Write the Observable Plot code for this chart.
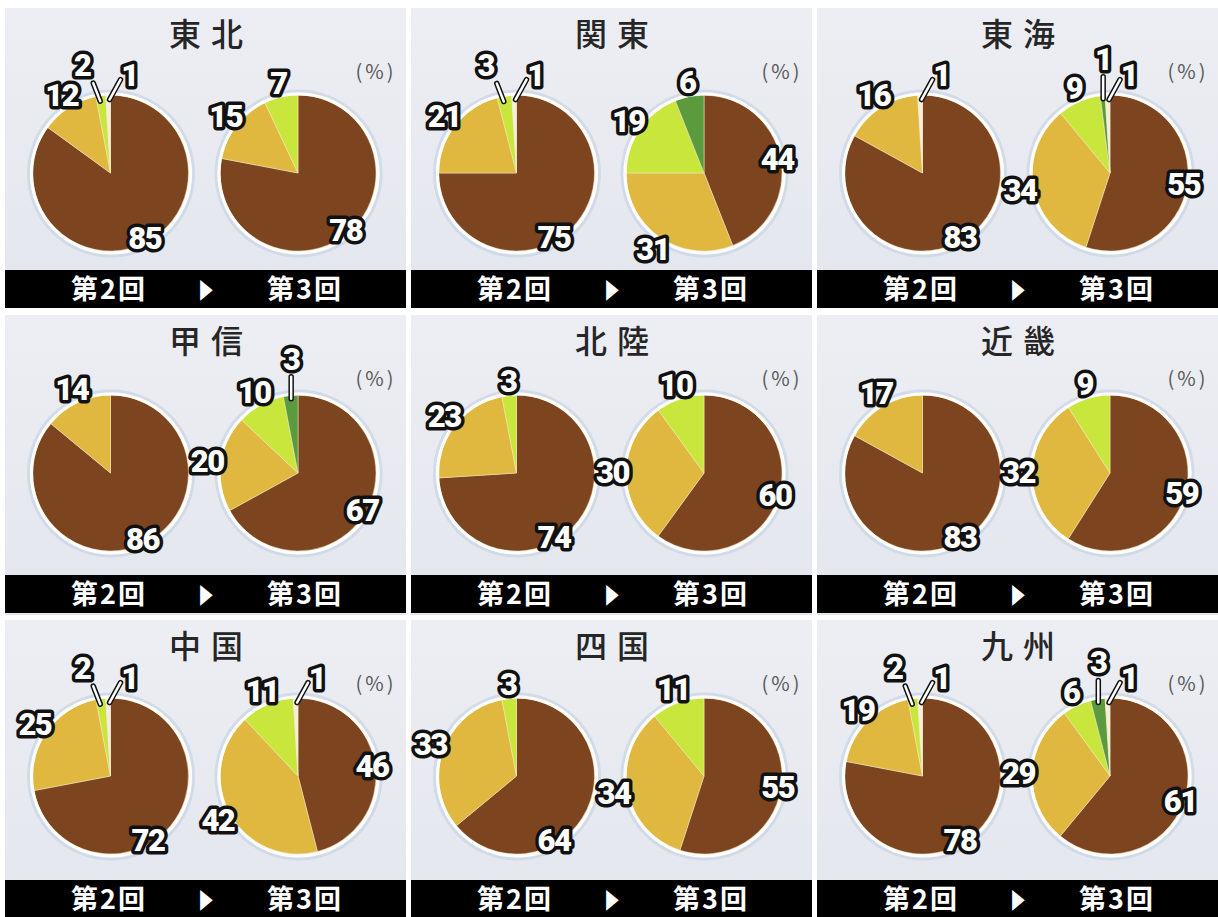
<!DOCTYPE html>
<html><head><meta charset="utf-8">
<script src="https://cdn.jsdelivr.net/npm/d3@7"></script>
<script src="https://cdn.jsdelivr.net/npm/@observablehq/plot@0.6"></script>
<style>
html,body{margin:0;padding:0;background:#fff}
body{width:1218px;height:917px;overflow:hidden;position:relative;font-family:"Noto Sans CJK JP","Noto Sans",sans-serif}
.panel{position:absolute;width:401px;height:300px;background:linear-gradient(#eceef3,#e3e6ed)}
.panel svg{display:block;position:absolute;left:0;top:0;overflow:visible}
.band{position:absolute;left:0;width:100%;height:38px;background:#000;color:#fff;font-weight:700;font-size:27px;letter-spacing:2px}
.band span{position:absolute;top:50%;transform:translate(-50%,-53%);white-space:nowrap}
.band .arrow{font-size:22px;letter-spacing:0;transform:translate(-50%,-52%) scaleX(0.7)}
</style></head><body>
<script>
// ---- data ----
const regions = ["東北","関東","東海","甲信","北陸","近畿","中国","四国","九州"];
const rounds = ["第2回","第3回"];
// slice order, clockwise from 12 o'clock: brown, yellow, light green, dark green, pale
const categories = ["区分1","区分2","区分3","区分4","区分5"];
const palette = ["#7c4520","#e0b840","#c9e63c","#5c9a3e","#f3efd9"];
const share2nd = [
  [85,12,2,0,1],
  [75,21,3,0,1],
  [83,16,0,0,1],
  [86,14,0,0,0],
  [74,23,3,0,0],
  [83,17,0,0,0],
  [72,25,2,0,1],
  [64,33,3,0,0],
  [78,19,2,0,1]
];
const share3rd = [
  [78,15,7,0,0],
  [44,31,19,6,0],
  [55,34,9,1,1],
  [67,20,10,3,0],
  [60,30,10,0,0],
  [59,32,9,0,0],
  [46,42,11,0,1],
  [55,34,11,0,0],
  [61,29,6,3,1]
];
const unitLabel = "(%)";

// ---- layout ----
const W = 401, SVG_H = 261, R = 78;
const colLeft = [5, 411, 817];
const rowTop = [8, 315, 620];
const pieCy = [165, 158, 156];
const bandTop = [262, 260, 260];
const pieX = [-95, 92.5];
const bandX = [104, 201, 300];

function layoutPie(vals, cx, isLeft, slices, labels, leaders) {
  let acc = 0;
  const sl = [];
  vals.forEach((v, k) => {
    const a0 = acc / 100 * 2 * Math.PI;
    acc += v;
    if (v > 0) sl.push({k, v, cx, a0, a1: acc / 100 * 2 * Math.PI});
  });
  const minor = sl.filter(s => s.k >= 2);
  sl.forEach((s, idx) => {
    slices.push(s);
    const m = (s.a0 + s.a1) / 2;
    const px = cx + R * Math.sin(m), py = R * Math.cos(m);
    const text = String(s.v);
    const tiny = s.v <= 3 && s.k >= 2 && (minor.length >= 2 || s.k === 4);
    if (!tiny) {
      let a = m;
      if (s.k === 0 && isLeft) a = Math.max(m, 150 * Math.PI / 180);
      const d = (s.k === 0 ? 0.95 : 1.18) * R;
      labels.push({x: cx + d * Math.sin(a), y: d * Math.cos(a), text});
    } else if (s.k === 4) {
      leaders.push({x1: px + 1, y1: py - 4, x2: px + 12, y2: py + 16});
      labels.push({x: px + 21, y: py + 19, text});
    } else {
      const next = sl[idx + 1], prev = sl[idx - 1];
      const upLeft = next && next.k === 4 && prev && prev.k === 1 && m * 180 / Math.PI < 354;
      if (upLeft) {
        leaders.push({x1: px - 1, y1: py - 5, x2: px - 8, y2: py + 13});
        labels.push({x: px - 19, y: py + 30, text});
      } else {
        leaders.push({x1: px, y1: py - 3, x2: px, y2: py + 19});
        labels.push({x: px, y: py + 36, text});
      }
    }
  });
}

function pieMark(slices) {
  return (index, scales) => {
    const g = d3.create("svg:g");
    const arc = d3.arc().innerRadius(0);
    for (const s of slices) {
      const cx = scales.x(s.cx), cy = scales.y(0);
      const rr = scales.x(s.cx + R) - cx;
      g.append("path")
        .attr("transform", `translate(${cx},${cy})`)
        .attr("d", arc({outerRadius: rr, startAngle: s.a0, endAngle: s.a1}))
        .attr("fill", palette[s.k])
        .attr("stroke", "#f4e8c8").attr("stroke-width", 0.7).attr("stroke-opacity", 0.7);
    }
    return g.node();
  };
}

regions.forEach((name, i) => {
  const col = i % 3, row = Math.floor(i / 3);
  const div = document.createElement("div");
  div.className = "panel";
  div.style.left = colLeft[col] + "px";
  div.style.top = rowTop[row] + "px";
  document.body.appendChild(div);

  const slices = [], labels = [], leaders = [], pies = [];
  rounds.forEach((rd, j) => {
    const vals = (j === 0 ? share2nd : share3rd)[i];
    pies.push({round: rd, cx: pieX[j]});
    layoutPie(vals, pieX[j], j === 0, slices, labels, leaders);
  });

  const cyTop = pieCy[row];
  const plot = Plot.plot({
    width: W, height: SVG_H, margin: 0,
    x: {domain: [-W / 2, W / 2], axis: null},
    y: {domain: [cyTop - SVG_H, cyTop], axis: null},
    style: {background: "transparent", overflow: "visible"},
    marks: [
      Plot.dot(pies, {x: "cx", y: () => 0, r: R + 4.5, stroke: "#c3d1e4", strokeWidth: 3, strokeOpacity: 0.6, fill: "none"}),
      pieMark(slices),
      Plot.dot(pies, {x: "cx", y: () => 0, r: R + 1.5, stroke: "#fffdf8", strokeWidth: 3.2, fill: "none"}),
      Plot.link(leaders, {x1: "x1", y1: "y1", x2: "x2", y2: "y2", stroke: "#111", strokeWidth: 5.5, strokeLinecap: "round"}),
      Plot.link(leaders, {x1: "x1", y1: "y1", x2: "x2", y2: "y2", stroke: "#fff", strokeWidth: 2.5, strokeLinecap: "round"}),
      Plot.text(labels, {x: "x", y: "y", text: "text", fill: "#fff", stroke: "#111", strokeWidth: 7, strokeLinejoin: "round",
        fontSize: 31, fontWeight: 900, fontFamily: "Roboto, 'DejaVu Sans', sans-serif"}),
      Plot.text([name], {frameAnchor: "top", text: d => d, dy: 27, dx: 5, lineAnchor: "middle", fontSize: 32, fontWeight: 500,
        fill: "#262626", fontFamily: "'Noto Sans CJK JP', sans-serif"}),
      Plot.text([unitLabel], {frameAnchor: "top-right", text: d => d, dy: 64, dx: -10, lineAnchor: "middle", fontSize: 20,
        fill: "#5a5a5a", fontFamily: "'Noto Sans CJK JP', sans-serif"})
    ]
  });
  d3.select(plot).selectAll("g[font-size='31'] text").style("letter-spacing", "-1.5px");
  d3.select(plot).selectAll("g[font-size='32'] text").style("letter-spacing", "10px");
  d3.select(plot).selectAll("g[font-size='20'] text").style("letter-spacing", "3px");
  div.appendChild(plot);

  const band = document.createElement("div");
  band.className = "band";
  band.style.top = bandTop[row] + "px";
  const parts = [rounds[0], "▶", rounds[1]];
  parts.forEach((t, k) => {
    const s = document.createElement("span");
    s.textContent = t;
    if (k === 1) s.className = "arrow";
    s.style.left = bandX[k] + "px";
    band.appendChild(s);
  });
  div.appendChild(band);
});
</script>
</body></html>
